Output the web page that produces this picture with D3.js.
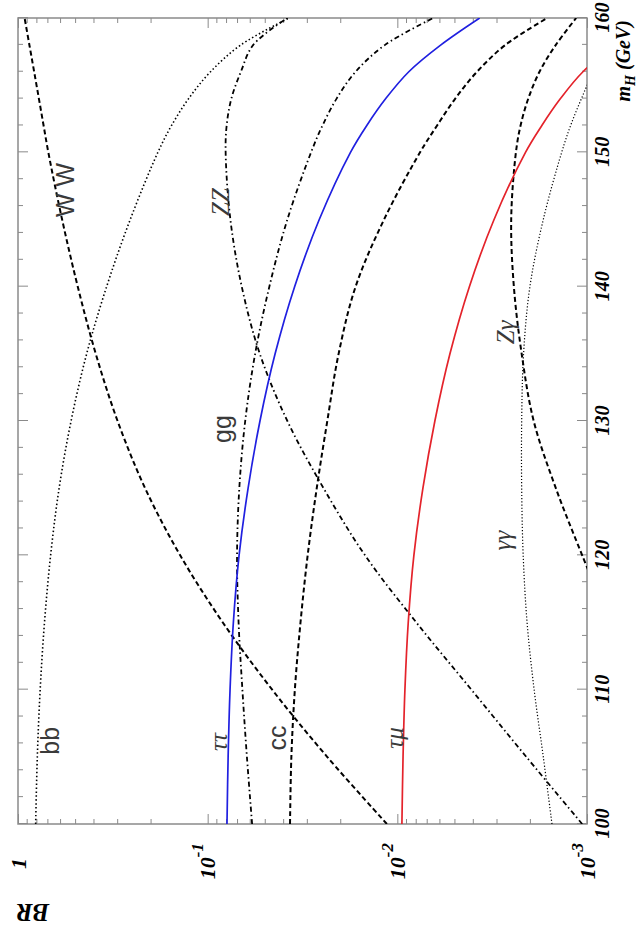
<!DOCTYPE html>
<html>
<head>
<meta charset="utf-8">
<script src="https://cdn.jsdelivr.net/npm/d3@7"></script>
<style>
body { margin: 0; background: #fff; }
.axis text { font-family: "Liberation Serif", "DejaVu Serif", serif; font-weight: bold; font-style: italic; fill: #000; }
.axis line { stroke: #8a8a8a; stroke-width: 1; }
.axis path { display: none; }
</style>
</head>
<body>
<div id="chart"></div>
<script>
/*
Higgs branching ratios BR vs m_H.
The whole plot is drawn normally and then turned by -90 degrees,
so m_H runs bottom -> top and BR runs left -> right on the page.
*/

// Higgs masses (GeV)
var mH = [100, 105, 110, 115, 120, 125, 130, 135, 140, 145, 150, 152, 154, 156, 158, 160];

// branching ratios
var brBB     = [0.807, 0.791, 0.764, 0.725, 0.673, 0.607, 0.525, 0.4345, 0.341, 0.256, 0.183, 0.155, 0.126, 0.0966, 0.0668, 0.0372];
var brWW     = [0.01135, 0.02344, 0.0457, 0.0832, 0.1396, 0.2138, 0.2985, 0.389, 0.484, 0.5854, 0.692, 0.733, 0.776, 0.822, 0.871, 0.923];
var brGG     = [0.0583, 0.0621, 0.0656, 0.0687, 0.07, 0.0681, 0.0634, 0.0562, 0.0473, 0.038, 0.0285, 0.0248, 0.0209, 0.0166, 0.0116, 0.00646];
var brTauTau = [0.0791, 0.078, 0.0762, 0.0732, 0.0683, 0.0612, 0.053, 0.0441, 0.0348, 0.0258, 0.01766, 0.01449, 0.01151, 0.0087, 0.00589, 0.00368];
var brCC     = [0.0368, 0.0362, 0.0347, 0.0324, 0.0297, 0.0266, 0.0234, 0.0204, 0.0166, 0.01175, 0.00759, 0.00617, 0.00495, 0.0038, 0.00269, 0.00162];
var brZZ     = [0.00106, 0.00209, 0.00407, 0.00794, 0.0148, 0.0245, 0.038, 0.0531, 0.0661, 0.0759, 0.0804, 0.0794, 0.075, 0.0668, 0.0575, 0.038];
var brTauMu  = [0.00946, 0.00933, 0.00912, 0.00876, 0.00818, 0.00733, 0.00634, 0.00528, 0.00417, 0.00309, 0.00211, 0.00173, 0.00138, 0.00105, 0.000705, 0.00044];
var brGamGam = [0.00153, 0.0017, 0.0019, 0.00207, 0.00217, 0.00221, 0.00221, 0.00216, 0.002, 0.0017, 0.00136, 0.00122, 0.00107, 0.00093, 0.00081, 0.00071];
var brZGam   = [null, null, null, 0.00076, 0.00106, 0.00146, 0.00191, 0.00221, 0.00243, 0.00251, 0.00237, 0.00224, 0.00204, 0.00178, 0.00146, 0.00114];

// curve labels: text, m_H and BR where the label sits
var labelText = ["bb", "W W", "ZZ", "gg", "\u03c4\u03c4", "cc", "\u03c4\u03bc", "\u03b3\u03b3", "Z\u03b3"];
var labelMH   = [106.2, 147.2, 146.3, 129.4, 106.1, 106.4, 106.4, 121.1, 136.6];
var labelBR   = [0.678, 0.565, 0.086, 0.084, 0.088, 0.043, 0.0103, 0.0028, 0.0027];

// axis ticks
var mHMajor = [100, 110, 120, 130, 140, 150, 160];
var brMajor = [1, 0.1, 0.01, 0.001];

var series = [
    {values: brBB,     color: "#000", width: 1.6, dash: "1.5,2.4"},
    {values: brWW,     color: "#000", width: 2,   dash: "5,3"},
    {values: brGG,     color: "#000", width: 1.8, dash: "5,3,1.5,3"},
    {values: brZZ,     color: "#000", width: 1.8, dash: "5,3,1.5,3"},
    {values: brCC,     color: "#000", width: 2,   dash: "5,3"},
    {values: brZGam,   color: "#000", width: 2,   dash: "5,3"},
    {values: brGamGam, color: "#000", width: 1.2, dash: "1.2,2"},
    {values: brTauTau, color: "#2020e0", width: 1.7, dash: null},
    {values: brTauMu,  color: "#e4232b", width: 1.7, dash: null}
];

var width = 806,   // m_H axis length
    height = 569,  // BR axis length
    left = 18, bottom = 824;

var x = d3.scaleLinear().domain([100, 160]).range([0, width]);
var y = d3.scaleLog().domain([0.001, 1]).range([height, 0]);

var svg = d3.select("#chart")
            .append("svg")
            .attr("width", 637)
            .attr("height", 935);

var g = svg.append("g")
           .attr("transform", "translate(" + left + "," + bottom + ") rotate(-90)");

g.append("clipPath")
    .attr("id", "plotClip")
    .append("rect")
    .attr("width", width)
    .attr("height", height);

// minor ticks
var mHMinor = d3.range(100, 161, 2).filter(function(d){ return d % 10 != 0; });
var brMinor = [];
[0.001, 0.01, 0.1].forEach(function(dec){
    for (var k = 2; k <= 9; k++) brMinor.push(k * dec);
});

// m_H axis (right on the page)
g.append("g")
    .attr("class", "axis")
    .attr("transform", "translate(0," + height + ")")
    .call(d3.axisBottom(x).tickValues(mHMajor).tickSizeInner(-10).tickSizeOuter(0).tickPadding(8).tickFormat(d3.format("d")))
    .selectAll("text").style("font-size", "20px");

g.append("g")
    .attr("class", "axis")
    .attr("transform", "translate(0," + height + ")")
    .call(d3.axisBottom(x).tickValues(mHMinor).tickSize(-5).tickFormat(""));

// opposite side ticks (left on the page)
g.append("g")
    .attr("class", "axis")
    .call(d3.axisTop(x).tickValues(mHMajor).tickSize(-10).tickFormat(""));
g.append("g")
    .attr("class", "axis")
    .call(d3.axisTop(x).tickValues(mHMinor).tickSize(-5).tickFormat(""));

// BR axis (bottom on the page)
var brAxis = g.append("g")
    .attr("class", "axis")
    .call(d3.axisLeft(y).tickValues(brMajor).tickSizeInner(-10).tickSizeOuter(0).tickPadding(19).tickFormat(""));

brAxis.selectAll(".tick text").each(function(d){
    var t = d3.select(this).style("font-size", "22px");
    if (d == 1) {
        t.attr("x", -34).text("1");
    } else {
        t.append("tspan").text("10");
        t.append("tspan")
            .attr("dy", "-0.7em")
            .style("font-size", "17px")
            .text(String(Math.round(Math.log10(d))));
    }
});

g.append("g")
    .attr("class", "axis")
    .call(d3.axisLeft(y).tickValues(brMinor).tickSize(-5).tickFormat(""));

// ticks at the far side (top on the page)
g.append("g")
    .attr("class", "axis")
    .attr("transform", "translate(" + width + ",0)")
    .call(d3.axisRight(y).tickValues(brMajor).tickSize(-10).tickFormat(""));
g.append("g")
    .attr("class", "axis")
    .attr("transform", "translate(" + width + ",0)")
    .call(d3.axisRight(y).tickValues(brMinor).tickSize(-5).tickFormat(""));

// frame
g.append("rect")
    .attr("width", width)
    .attr("height", height)
    .attr("fill", "none")
    .attr("stroke", "#8a8a8a")
    .attr("stroke-width", 1.5);

// the curves
var line = d3.line()
    .defined(function(d){ return d[1] != null; })
    .x(function(d){ return x(d[0]); })
    .y(function(d){ return y(d[1]); })
    .curve(d3.curveCatmullRom.alpha(0.5));

g.append("g")
    .attr("clip-path", "url(#plotClip)")
    .selectAll("path")
    .data(series)
    .enter().append("path")
    .attr("d", function(s){
        return line(mH.map(function(m, i){ return [m, s.values[i]]; }));
    })
    .attr("fill", "none")
    .attr("stroke", function(s){ return s.color; })
    .attr("stroke-width", function(s){ return s.width; })
    .attr("stroke-dasharray", function(s){ return s.dash; });

// curve labels
function isPlain(d){ return d == "bb" || d == "cc" || d == "gg" || d == "W W"; }

g.selectAll(".curveLabel")
    .data(labelText)
    .enter().append("text")
    .attr("class", "curveLabel")
    .attr("x", function(d, i){ return x(labelMH[i]); })
    .attr("y", function(d, i){ return y(labelBR[i]); })
    .attr("text-anchor", "middle")
    .attr("dominant-baseline", "central")
    .style("font-family", function(d){
        return isPlain(d) ? "Liberation Sans, Arial, sans-serif" : "Liberation Serif, serif";
    })
    .style("font-style", function(d){ return isPlain(d) ? "normal" : "italic"; })
    .style("font-size", "25px")
    .style("fill", "#3a3a3a")
    .text(function(d){ return d; });

// axis titles
var xTitle = g.append("text")
    .attr("x", width - 2)
    .attr("y", height + 43)
    .attr("text-anchor", "end")
    .style("font-family", "Liberation Serif, serif")
    .style("font-weight", "bold")
    .style("font-style", "italic")
    .style("font-size", "20px");
xTitle.append("tspan").text("m");
xTitle.append("tspan").attr("dy", 5).style("font-size", "14px").text("H");
xTitle.append("tspan").attr("dy", -5).text(" (GeV)");

g.append("text")
    .attr("transform", "translate(-80,-2) rotate(-90)")
    .attr("text-anchor", "end")
    .style("font-family", "Liberation Serif, serif")
    .style("font-weight", "bold")
    .style("font-style", "italic")
    .style("font-size", "25px")
    .text("BR");
</script>
</body>
</html>
